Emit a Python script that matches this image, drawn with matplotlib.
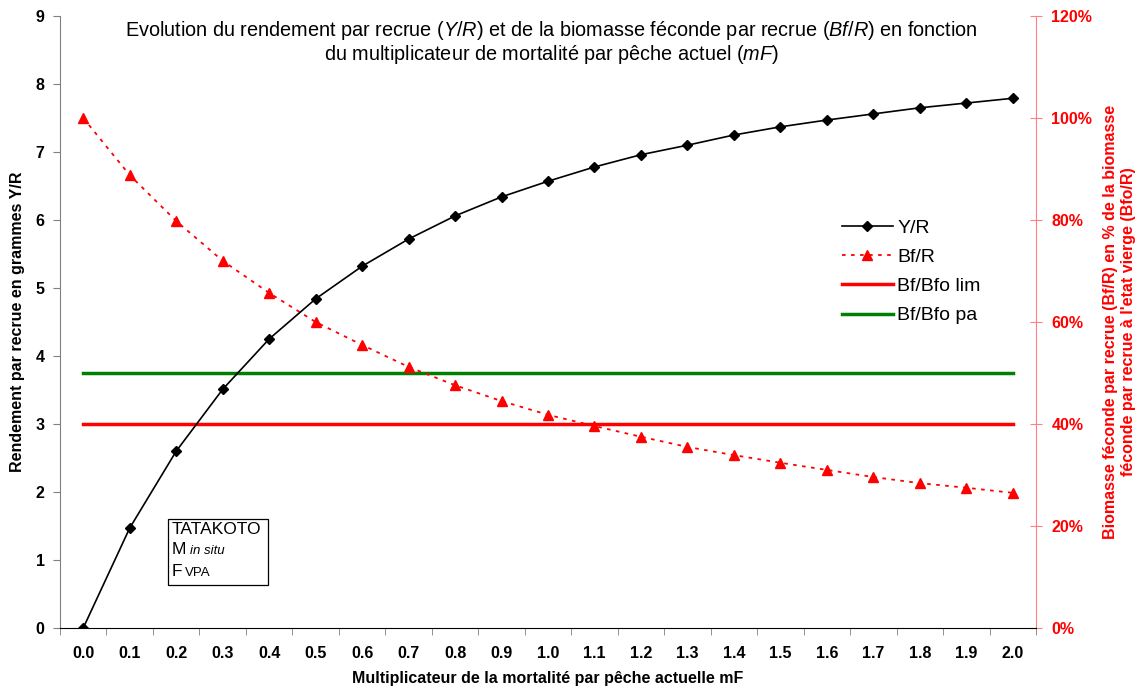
import matplotlib
matplotlib.use("Agg")
import matplotlib.pyplot as plt
from matplotlib.lines import Line2D
from matplotlib.patches import Rectangle
import numpy as np

plt.rcParams['font.family'] = ['Liberation Sans', 'DejaVu Sans']
plt.rcParams['mathtext.fontset'] = 'custom'
plt.rcParams['mathtext.rm'] = 'Liberation Sans'
plt.rcParams['mathtext.it'] = 'Liberation Sans:italic'

# Fishing mortality multiplier (categories)
mf_labels = ["0.0", "0.1", "0.2", "0.3", "0.4", "0.5", "0.6", "0.7", "0.8", "0.9", "1.0",
             "1.1", "1.2", "1.3", "1.4", "1.5", "1.6", "1.7", "1.8", "1.9", "2.0"]
# Yield per recruit (g)
yr_values = [0.0, 1.47, 2.60, 3.51, 4.25, 4.84, 5.32, 5.72, 6.06, 6.34, 6.57,
             6.78, 6.96, 7.10, 7.25, 7.37, 7.47, 7.56, 7.65, 7.72, 7.79]
# Spawning biomass per recruit, % of virgin level
bfr_pct = [100.0, 88.8, 79.8, 72.0, 65.7, 60.0, 55.5, 51.2, 47.6, 44.5, 41.8,
           39.6, 37.5, 35.5, 33.9, 32.4, 31.0, 29.6, 28.4, 27.5, 26.5]
# Reference points (% of virgin spawning biomass)
bf_lim = 40.0
bf_pa = 50.0

W, H = 1140, 690
fig = plt.figure(figsize=(W / 100, H / 100), dpi=100)
ax = fig.add_axes([60 / W, 1 - 628 / H, (1036 - 60) / W, (628 - 16) / H])
ax2 = ax.twinx()

x = np.arange(len(mf_labels))

# Right axis series
ax2.plot(x, bfr_pct, color='red', linestyle=(0, (2, 3)), linewidth=1.3,
         marker='^', markersize=7, markeredgecolor='red', markerfacecolor='red', zorder=3)
ax2.plot([x[0], x[-1]], [bf_lim, bf_lim], color='red', linewidth=2.5, zorder=2)
ax2.plot([x[0], x[-1]], [bf_pa, bf_pa], color='green', linewidth=2.5, zorder=2)

# Left axis series
ax.plot(x, yr_values, color='black', linewidth=1.2, marker='D', markersize=5.5,
        markerfacecolor='black', zorder=4)
ax.set_zorder(ax2.get_zorder() + 1)
ax.patch.set_visible(False)

ax.set_xlim(-0.5, len(mf_labels) - 0.5)
ax.set_ylim(0, 9)
ax2.set_ylim(0, 120)

tick_fs = 11.5
ax.set_xticks(x)
ax.set_xticklabels(mf_labels, fontsize=tick_fs, fontweight='bold')
ax.set_xticks(np.arange(-0.5, len(mf_labels)), minor=True)
ax.tick_params(axis='x', which='major', length=0, pad=13)
ax.tick_params(axis='x', which='minor', length=5, color='#808080', direction='out')

ax.set_yticks(np.arange(0, 10, 1))
ax.set_yticklabels([str(v) for v in range(10)], fontsize=tick_fs, fontweight='bold')
ax.tick_params(axis='y', length=5, color='#808080', direction='out', pad=6)

ax2.set_yticks(np.arange(0, 121, 20))
ax2.set_yticklabels([f"{v}%" for v in range(0, 121, 20)], fontsize=tick_fs,
                    fontweight='bold', color='red')
ax2.tick_params(axis='y', length=8, color='#ff8080', direction='inout', pad=7)

for a in (ax, ax2):
    a.spines['top'].set_visible(False)
ax.spines['left'].set_color('#808080')
ax.spines['right'].set_visible(False)
ax2.spines['left'].set_visible(False)
ax2.spines['bottom'].set_visible(False)
ax2.spines['right'].set_color('#ff8080')
ax.spines['bottom'].set_color('black')

ax.set_xlabel("Multiplicateur de la mortalité par pêche actuelle mF", fontsize=11.5,
              fontweight='bold', labelpad=7)
ax.set_ylabel("Rendement par recrue en grammes Y/R", fontsize=11.5, fontweight='bold',
              labelpad=8)
ax2.set_ylabel("Biomasse féconde par recrue (Bf/R) en % de la biomasse\n"
               "féconde par recrue à l'etat vierge (Bfo/R)", fontsize=11.5,
               fontweight='bold', color='red', labelpad=8)

# Title with italic symbols
fig.text(551 / W, 1 - 31 / H,
         r"Evolution du rendement par recrue ($\mathit{Y/R}$) et de la biomasse féconde par recrue ($\mathit{Bf/R}$) en fonction",
         ha='center', va='center', fontsize=14.3)
fig.text(551 / W, 1 - 55 / H,
         r"du multiplicateur de mortalité par pêche actuel ($\mathit{mF}$)",
         ha='center', va='center', fontsize=14.3)

# Legend
handles = [
    Line2D([], [], color='black', linewidth=1.2, marker='D', markersize=5.5),
    Line2D([], [], color='red', linestyle=(0, (2, 3)), linewidth=1.3, marker='^', markersize=7),
    Line2D([], [], color='red', linewidth=2.5),
    Line2D([], [], color='green', linewidth=2.5),
]
labels = ["Y/R", "Bf/R", "Bf/Bfo lim", "Bf/Bfo pa"]
ax.legend(handles, labels, loc='upper left',
          bbox_to_anchor=((842 - 60) / 976, (628 - 219) / 612),
          frameon=False, fontsize=14, handlelength=2.6, labelspacing=0.6,
          handletextpad=0.25, borderpad=0, borderaxespad=0)

# Site info box
bx0, bx1 = (168 - 60) / 976, (268 - 60) / 976
by0, by1 = (628 - 585) / 612, (628 - 519) / 612
ax.add_patch(Rectangle((bx0, by0), bx1 - bx0, by1 - by0, transform=ax.transAxes,
                       fill=False, edgecolor='black', linewidth=0.9, zorder=5))
tx = (172 - 60) / 976
ax.text(tx, (628 - 529) / 612, "TATAKOTO", transform=ax.transAxes, fontsize=12.5,
        va='center', ha='left')
ax.text(tx, (628 - 550) / 612, "M", transform=ax.transAxes, fontsize=12.5,
        va='center', ha='left')
ax.text((190 - 60) / 976, (628 - 551) / 612, "in situ", transform=ax.transAxes, fontsize=9.5,
        va='center', ha='left', style='italic')
ax.text(tx, (628 - 572) / 612, "F", transform=ax.transAxes, fontsize=12.5,
        va='center', ha='left')
ax.text((185 - 60) / 976, (628 - 573) / 612, "VPA", transform=ax.transAxes, fontsize=9.5,
        va='center', ha='left')

fig.savefig("out.png", dpi=100, facecolor='white')
